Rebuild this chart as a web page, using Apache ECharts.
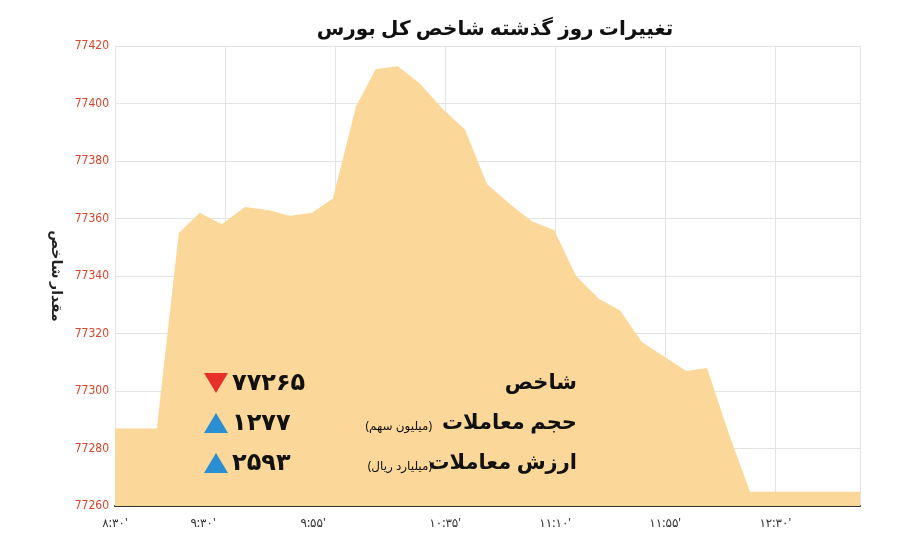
<!DOCTYPE html>
<html><head><meta charset="utf-8">
<script src="https://cdn.jsdelivr.net/npm/echarts@6/dist/echarts.min.js"></script>
<style>html,body{margin:0;background:#fff}#c{width:900px;height:556px}</style></head>
<body><div id="c"></div>
<script>
const xPos=[0,3.8,5.8,7.7,9.7,11.8,13.9,15.9,17.9,19.8,21.9,23.7,25.7,27.7,29.8,31.8,33.8,35.9,37.9,39.9,41.9,44.0,45.9,47.9,49.9,51.9,53.8,55.8,57.7,67.7];
const values=[77287,77287,77355,77362,77358,77364,77363,77361,77362,77367,77399,77412,77413,77407,77398,77391,77372,77365,77359,77356,77340,77332,77328,77317,77312,77307,77308,77285,77265,77265];
const tickPos=[0,8,18,30,40,50,60];
const tickLabels=["۸:۳۰'","۹:۳۰'","۹:۵۵'","۱۰:۳۵'","۱۱:۱۰'","۱۱:۵۵'","۱۲:۳۰'"];
const statNames=["شاخص","حجم معاملات","ارزش معاملات"];
const statUnits=["","(میلیون سهم)","(میلیارد ریال)"];
const statValues=["۷۷۲۶۵","۱۲۷۷","۲۵۹۳"];
const statUp=[false,true,true];
const F="'Noto Sans', 'DejaVu Sans', sans-serif";
const chart=echarts.init(document.getElementById('c'));
const g=[];
statNames.forEach((n,i)=>{
  const y=383+i*40;
  g.push({type:'text',z:100,x:577,y:y,style:{text:n,fontFamily:F,fontSize:21,fontWeight:'bold',fill:'#111',align:'right',verticalAlign:'middle'}});
  if(statUnits[i]) g.push({type:'text',z:100,x:432,y:y+4,style:{text:statUnits[i],fontFamily:F,fontSize:12,fill:'#111',align:'right',verticalAlign:'middle'}});
  g.push({type:'text',z:100,x:232,y:y,style:{text:statValues[i],fontFamily:F,fontSize:24,fontWeight:'bold',fill:'#111',align:'left',verticalAlign:'middle'}});
  g.push({type:'polygon',z:100,shape:{points:statUp[i]?[[204,y+10],[228,y+10],[216,y-10]]:[[204,y-10],[228,y-10],[216,y+10]]},style:{fill:statUp[i]?'#2a8fd0':'#e8302a'}});
});
chart.setOption({
  animation:false,
  title:{text:'تغییرات روز گذشته شاخص کل بورس',left:490,textAlign:'center',top:14,textStyle:{fontFamily:F,fontSize:20,fontWeight:'bold',color:'#111'}},
  grid:{left:115,right:40,top:46,bottom:50},
  xAxis:{type:'value',min:0,max:67.7,
    axisLine:{show:true,lineStyle:{color:'#333',width:2}},
    axisTick:{show:false},
    splitLine:{show:true,lineStyle:{color:'#e4e4e4'}},
    axisLabel:{customValues:tickPos,formatter:(v)=>tickLabels[tickPos.indexOf(v)]||'',color:'#333',fontFamily:F,fontSize:12,margin:12}
  },
  yAxis:{type:'value',min:77260,max:77420,interval:20,
    name:'مقدار شاخص',nameLocation:'middle',nameGap:52,nameRotate:-90,
    nameTextStyle:{fontFamily:F,fontSize:14,fontWeight:'bold',color:'#222'},
    axisLine:{show:false},axisTick:{show:false},
    splitLine:{lineStyle:{color:'#e4e4e4'}},
    axisLabel:{formatter:(v)=>String(v),color:'#d9432a',fontFamily:"'Liberation Sans Narrow','DejaVu Sans Condensed',sans-serif",fontSize:12,margin:6}
  },
  series:[{type:'line',data:xPos.map((x,i)=>[x,values[i]]),symbol:'none',
    lineStyle:{width:0},areaStyle:{color:'#fbd799',opacity:1},z:1}],
  graphic:{elements:g}
});
</script></body></html>
